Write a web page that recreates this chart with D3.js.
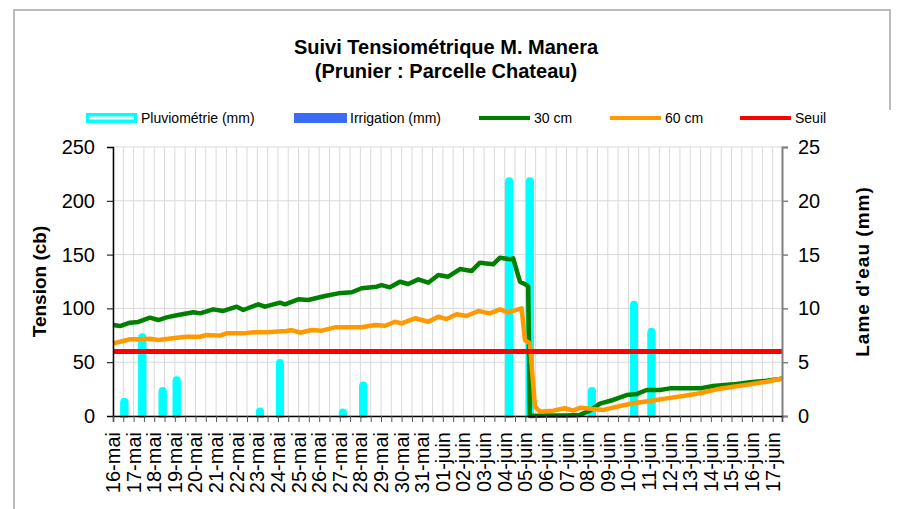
<!DOCTYPE html>
<html>
<head>
<meta charset="utf-8">
<script src="https://cdn.jsdelivr.net/npm/d3@7"></script>
<style>
  body{margin:0;background:#fff;}
  svg{font-family:"Liberation Sans",Arial,sans-serif;}
</style>
</head>
<body>
<svg id="chart"></svg>
<script>
// day labels on the x axis (one per day)
var dayLabels=["16-mai","17-mai","18-mai","19-mai","20-mai","21-mai","22-mai","23-mai","24-mai","25-mai",
  "26-mai","27-mai","28-mai","29-mai","30-mai","31-mai","01-juin","02-juin","03-juin","04-juin","05-juin",
  "06-juin","07-juin","08-juin","09-juin","10-juin","11-juin","12-juin","13-juin","14-juin","15-juin",
  "16-juin","17-juin"];

// rain (mm), time in days since 16-mai
var rainDay=[0.55,1.42,2.41,3.09,7.13,8.10,11.15,12.14,19.22,20.22,23.23,25.27,26.12];
var rainMm=[1.7,7.7,2.7,3.7,0.8,5.3,0.7,3.2,22.2,22.2,2.7,10.7,8.2];

// irrigation (mm) : none on this period
var irrDay=[];
var irrMm=[];

// tension 30 cm (cb)
var t30Day=[0,0.34,0.82,1.23,1.79,2.2,2.6,3.09,3.9,4.22,4.86,5.35,6.0,6.32,7.05,7.37,8.1,8.34,8.99,9.47,
  10.28,10.93,11.58,12.06,12.79,13.03,13.43,13.92,14.32,14.81,15.29,15.78,16.26,16.83,17.4,17.8,18.44,
  18.77,19.25,19.41,19.74,20.06,20.14,20.22,21.0,22.0,22.65,23.13,23.62,24.26,24.91,25.4,25.88,26.53,
  27.01,28.47,29.11,30.08,30.89,31.7,32.34,32.45];
var t30Val=[84.6,83.6,86.7,87.4,91.4,89.2,91.7,93.6,96.4,95.4,99.1,97.6,101.6,98.5,103.8,101.6,105.3,103.8,108.4,107.8,
  111.5,114,115,118.7,120.2,121.7,119.6,124.8,122.7,127,123.9,131,129.5,136.6,134.8,142.5,141,
  147.1,145.6,146.5,124.8,121.7,120.2,0,0.5,0.5,1,5,11.5,14.9,19.5,20.4,24.2,24.2,
  25.7,25.7,27.9,29.4,31.3,32.8,34.4,34.8];

// tension 60 cm (cb)
var t60Day=[0,0.5,0.82,1.31,1.79,2.2,2.6,3.09,3.57,4.22,4.54,5.19,5.51,6.32,6.8,7.45,8.42,8.67,9.07,9.64,
  10.12,10.77,12.06,12.71,13.19,13.68,14.0,14.65,15.29,15.78,16.18,16.67,17.15,17.72,18.28,18.77,19.17,
  19.82,19.98,20.22,20.47,20.71,21.35,21.92,22.32,22.65,23.29,23.78,24.1,24.59,25.23,26.04,26.85,27.66,
  28.47,29.28,30.08,30.89,31.7,32.34,32.45];
var t60Val=[67.5,69.7,71.3,71.3,71.8,70.6,71.6,72.8,73.7,73.7,75.3,74.7,76.8,76.8,77.8,77.8,79,79.9,77.4,79.9,
  79.3,82.4,82.4,84.6,83.9,87.6,86.1,90.8,87.6,92.3,90.1,94.5,92.9,97.6,95.4,99.1,96.4,
  100,70.6,67.5,8.7,4,5,7.2,5,7.7,6.5,5.6,7.1,9.3,11.8,13.9,16.4,18.6,
  21.1,24.8,27.2,29.4,31.9,34.4,34.8];

// seuil (cb)
var seuil=60;

var leftTicks=[0,50,100,150,200,250];
var rightTicks=[0,5,10,15,20,25];

var drawChart=function(w,h)
{
  var svg=d3.select("#chart")
            .attr("width",w)
            .attr("height",h);

  var margins={top:147,bottom:93,left:113,right:116};
  var x0=margins.left, x1=w-margins.right;
  var yTop=margins.top, yBot=h-margins.bottom;

  var xScale=d3.scaleLinear().domain([0,32.45]).range([x0,x1]);
  var yLeft=d3.scaleLinear().domain([0,250]).range([yBot,yTop]);
  var yRight=d3.scaleLinear().domain([0,25]).range([yBot,yTop]);

  // outer frame
  svg.append("path")
     .attr("d","M14,"+h+"V10H890V110")
     .attr("fill","none")
     .attr("stroke","#a6a6a6")
     .attr("stroke-width",1.5);

  // title
  var title=svg.append("text")
               .attr("x",446)
               .attr("text-anchor","middle")
               .attr("font-weight","bold")
               .attr("font-size",20);
  title.append("tspan").attr("x",446).attr("y",54).text("Suivi Tensiométrique M. Manera");
  title.append("tspan").attr("x",446).attr("y",78).text("(Prunier : Parcelle Chateau)");

  // grid
  var halfDays=d3.range(0,32.45,0.5);
  svg.append("g").selectAll("line")
     .data(halfDays)
     .enter()
     .append("line")
     .attr("x1",function(d){return xScale(d);})
     .attr("x2",function(d){return xScale(d);})
     .attr("y1",yTop)
     .attr("y2",yBot)
     .attr("stroke","#d9d9d9")
     .attr("stroke-width",1);
  svg.append("g").selectAll("line")
     .data(leftTicks)
     .enter()
     .append("line")
     .attr("x1",x0)
     .attr("x2",x1)
     .attr("y1",function(d){return yLeft(d);})
     .attr("y2",function(d){return yLeft(d);})
     .attr("stroke","#d9d9d9")
     .attr("stroke-width",1);

  // rain bars (right axis)
  var bars=svg.append("g").selectAll("g")
              .data(rainDay)
              .enter()
              .append("g");
  bars.append("rect")
      .attr("x",function(d){return xScale(d)-4;})
      .attr("y",function(d,i){return yRight(rainMm[i]);})
      .attr("width",8)
      .attr("height",function(d,i){return yBot-yRight(rainMm[i])+2;})
      .attr("rx",4)
      .attr("fill","#00ffff");
  bars.append("rect")
      .attr("x",function(d){return xScale(d)-4;})
      .attr("y",function(d,i){return Math.min(yRight(rainMm[i])+4,yBot-2);})
      .attr("width",8)
      .attr("height",function(d,i){return yBot+2-Math.min(yRight(rainMm[i])+4,yBot-2);})
      .attr("fill","#00ffff");

  // lines
  var line=d3.line()
             .x(function(d){return xScale(d[0]);})
             .y(function(d){return yLeft(d[1]);});
  svg.append("path")
     .datum(d3.zip(t30Day,t30Val))
     .attr("d",line)
     .attr("fill","none")
     .attr("stroke","#008000")
     .attr("stroke-width",4.5)
     .attr("stroke-linejoin","round");
  svg.append("path")
     .datum(d3.zip(t60Day,t60Val))
     .attr("d",line)
     .attr("fill","none")
     .attr("stroke","#ff9900")
     .attr("stroke-width",4.5)
     .attr("stroke-linejoin","round");
  svg.append("path")
     .datum([[0,seuil],[32.45,seuil]])
     .attr("d",line)
     .attr("fill","none")
     .attr("stroke","#ff0000")
     .attr("stroke-width",5);

  // axes
  var leftAxis=d3.axisLeft(yLeft).tickValues(leftTicks).tickSize(6).tickPadding(12);
  var gl=svg.append("g")
     .attr("transform","translate("+x0+",0)")
     .call(leftAxis);
  gl.select(".domain").attr("stroke","#000").attr("stroke-width",1.5);
  gl.selectAll(".tick line").attr("stroke","#000");
  gl.selectAll("text").attr("font-size",20).attr("font-family","Liberation Sans").attr("fill","#000");

  var rightAxis=d3.axisRight(yRight).tickValues(rightTicks).tickSize(6).tickPadding(10);
  var gr=svg.append("g")
     .attr("transform","translate("+x1+",0)")
     .call(rightAxis);
  gr.select(".domain").attr("stroke","#808080").attr("stroke-width",2);
  gr.selectAll(".tick line").attr("stroke","#808080").attr("stroke-width",1.5);
  gr.selectAll("text").attr("font-size",20).attr("font-family","Liberation Sans").attr("fill","#000");

  var bottomAxis=d3.axisBottom(xScale).tickValues(halfDays.concat([32.45])).tickSize(6).tickFormat("");
  var gb=svg.append("g")
     .attr("transform","translate(0,"+yBot+")")
     .call(bottomAxis);
  gb.select(".domain").attr("stroke","#000").attr("stroke-width",1.5);
  gb.selectAll(".tick line").attr("stroke","#555");

  svg.append("g").selectAll("text")
     .data(dayLabels)
     .enter()
     .append("text")
     .attr("transform",function(d,i){return "translate("+xScale(i)+","+(yBot+16)+") rotate(-90)";})
     .attr("dy","0.35em")
     .attr("text-anchor","end")
     .attr("font-size",20)
     .text(function(d){return d;});

  // axis titles
  svg.append("text")
     .attr("transform","translate(46,"+((yTop+yBot)/2)+") rotate(-90)")
     .attr("text-anchor","middle")
     .attr("font-weight","bold")
     .attr("font-size",19)
     .text("Tension (cb)");
  svg.append("text")
     .attr("transform","translate(869,"+((yTop+yBot)/2-10)+") rotate(-90)")
     .attr("text-anchor","middle")
     .attr("font-weight","bold")
     .attr("font-size",19)
     .attr("letter-spacing",1)
     .text("Lame d'eau (mm)");

  // legend
  var legend=svg.append("g").attr("font-size",14);
  legend.append("rect").attr("x",86).attr("y",113).attr("width",51).attr("height",10).attr("fill","#00ffff");
  legend.append("rect").attr("x",89).attr("y",116.5).attr("width",45).attr("height",3).attr("fill","#fff");
  legend.append("text").attr("x",141).attr("y",123).text("Pluviométrie (mm)");
  legend.append("rect").attr("x",294).attr("y",113).attr("width",53).attr("height",10).attr("fill","#3a6cf4");
  legend.append("text").attr("x",350).attr("y",123).text("Irrigation (mm)");
  var legLines=[["30 cm","#008000",479],["60 cm","#ff9900",610],["Seuil","#ff0000",740]];
  legLines.forEach(function(l){
    legend.append("line").attr("x1",l[2]).attr("x2",l[2]+51).attr("y1",118).attr("y2",118)
          .attr("stroke",l[1]).attr("stroke-width",4);
    legend.append("text").attr("x",l[2]+55).attr("y",123).text(l[0]);
  });
};

drawChart(898,509);
</script>
</body>
</html>
